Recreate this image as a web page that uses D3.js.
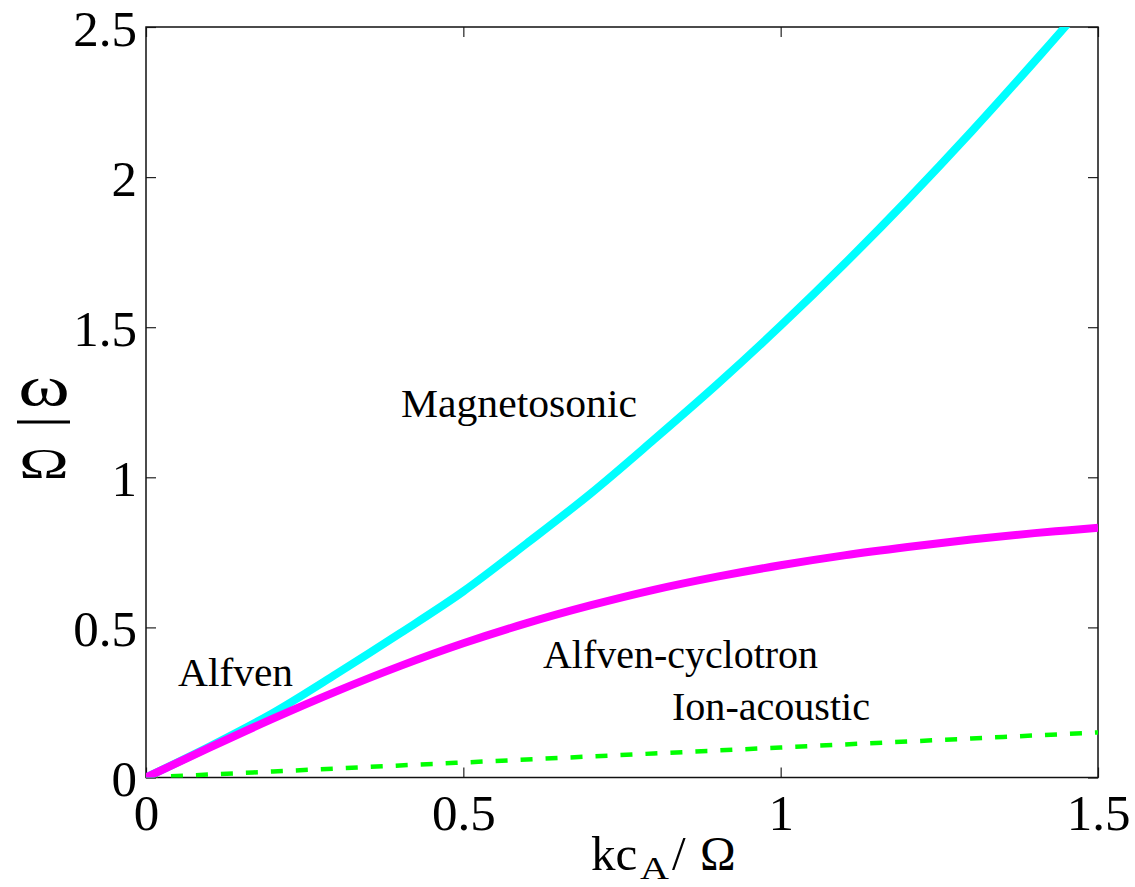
<!DOCTYPE html>
<html>
<head>
<meta charset="utf-8">
<script src="https://cdn.jsdelivr.net/npm/d3@7"></script>
<style>
  html, body { margin: 0; padding: 0; background: #fff; }
  svg { display: block; }
  text { font-family: "Liberation Serif", "DejaVu Serif", serif; fill: #000; }
</style>
</head>
<body>
<svg id="chart" width="1135" height="887"></svg>
<script>
// Normalised wavenumber kc_A/Ω
const kValues = [0, 0.1, 0.2, 0.3, 0.4, 0.5, 0.6, 0.7, 0.8, 0.9, 1.0, 1.1, 1.2, 1.3, 1.4, 1.45, 1.5];
// Normalised frequency ω/Ω for each branch
const magnetosonic = [0, 0.103, 0.215, 0.345, 0.48, 0.62, 0.78, 0.945, 1.125, 1.31, 1.505, 1.71, 1.925, 2.15, 2.385, 2.505, 2.63];
const alfvenCyclotron = [0, 0.0995, 0.196, 0.287, 0.371, 0.447, 0.514, 0.573, 0.625, 0.669, 0.707, 0.740, 0.768, 0.793, 0.814, 0.823, 0.832];
const ionAcoustic = [0, 0.01, 0.02, 0.03, 0.04, 0.05, 0.06, 0.07, 0.08, 0.09, 0.10, 0.11, 0.12, 0.13, 0.14, 0.145, 0.15];

const xTicks = [0, 0.5, 1, 1.5];
const yTicks = [0, 0.5, 1, 1.5, 2, 2.5];
const branchLabels = ["Magnetosonic", "Alfven", "Alfven-cyclotron", "Ion-acoustic"];

const svg = d3.select("#chart");
const x = d3.scaleLinear().domain([0, 1.5]).range([146, 1098]);
const y = d3.scaleLinear().domain([0, 2.5]).range([777.5, 27]);
const fmt = d3.format("~g");

// clip for the curves
svg.append("defs").append("clipPath").attr("id", "plotClip")
  .append("rect")
  .attr("x", x(0)).attr("y", y(2.5))
  .attr("width", x(1.5) - x(0)).attr("height", y(0) - y(2.5));

// axes with inward ticks on all four sides
const tickLen = 10;
const gx = svg.append("g").attr("transform", `translate(0,${y(0)})`)
  .call(d3.axisBottom(x).tickValues(xTicks).tickFormat(fmt)
    .tickSizeInner(-tickLen).tickSizeOuter(0).tickPadding(16));
const gxTop = svg.append("g").attr("transform", `translate(0,${y(2.5)})`)
  .call(d3.axisTop(x).tickValues(xTicks).tickFormat("")
    .tickSizeInner(-tickLen).tickSizeOuter(0));
const gy = svg.append("g").attr("transform", `translate(${x(0)},0)`)
  .call(d3.axisLeft(y).tickValues(yTicks).tickFormat(fmt)
    .tickSizeInner(-tickLen).tickSizeOuter(0).tickPadding(9));
const gyRight = svg.append("g").attr("transform", `translate(${x(1.5)},0)`)
  .call(d3.axisRight(y).tickValues(yTicks).tickFormat("")
    .tickSizeInner(-tickLen).tickSizeOuter(0));

[gx, gxTop, gy, gyRight].forEach(g => {
  g.attr("font-family", null).attr("font-size", null);
  g.select(".domain").remove();
  g.selectAll(".tick line").attr("stroke", "#222").attr("stroke-width", 1.2);
  g.selectAll(".tick text")
    .style("font-family", "'Liberation Serif', serif")
    .style("font-size", "51px").attr("fill", "#000");
});
gy.selectAll(".tick text").attr("dy", "0.36em");

// frame
svg.append("rect")
  .attr("x", x(0)).attr("y", y(2.5))
  .attr("width", x(1.5) - x(0)).attr("height", y(0) - y(2.5))
  .attr("fill", "none").attr("stroke", "#111").attr("stroke-width", 1.5);

// dispersion curves
const series = [
  { values: ionAcoustic, color: "#00ff00", width: 4.5, dash: "12,13" },
  { values: magnetosonic, color: "#00ffff", width: 8, dash: null },
  { values: alfvenCyclotron, color: "#ff00ff", width: 8, dash: null }
];
const line = d3.line().x(d => x(d[0])).y(d => y(d[1])).curve(d3.curveMonotoneX);
const curves = svg.append("g").attr("clip-path", "url(#plotClip)");
series.forEach(s => {
  curves.append("path")
    .datum(kValues.map((k, i) => [k, s.values[i]]))
    .attr("d", line)
    .attr("fill", "none")
    .attr("stroke", s.color)
    .attr("stroke-width", s.width)
    .attr("stroke-dasharray", s.dash);
});

// branch names
const labelPos = [[401, 417], [178, 686], [543, 668], [672, 720]];
const labelLen = [236, 115, 275, 198];
branchLabels.forEach((t, i) => {
  svg.append("text")
    .attr("x", labelPos[i][0]).attr("y", labelPos[i][1])
    .style("font-size", "40px")
    .attr("textLength", labelLen[i])
    .attr("lengthAdjust", "spacingAndGlyphs")
    .text(t);
});

// x axis title: kc_A/Ω
svg.append("text").attr("x", 591).attr("y", 870).style("font-size", "49px").text("kc");
svg.append("text").attr("x", 640).attr("y", 879).style("font-size", "31px")
  .attr("textLength", 29).attr("lengthAdjust", "spacingAndGlyphs").text("A");
svg.append("text").attr("x", 672).attr("y", 870).style("font-size", "49px").text("/");
svg.append("text").attr("x", 700).attr("y", 870).style("font-size", "48px").text("Ω");

// y axis title: ω over Ω
svg.append("text")
  .attr("transform", "translate(44,405) scale(1.4,1)")
  .attr("text-anchor", "middle")
  .style("font-size", "56px").text("ω");
svg.append("line").attr("x1", 17).attr("x2", 70).attr("y1", 422).attr("y2", 422)
  .attr("stroke", "#000").attr("stroke-width", 3);
svg.append("text")
  .attr("transform", "translate(44,478) scale(1.6,1)")
  .attr("text-anchor", "middle")
  .style("font-size", "42px").text("Ω");
</script>
</body>
</html>
